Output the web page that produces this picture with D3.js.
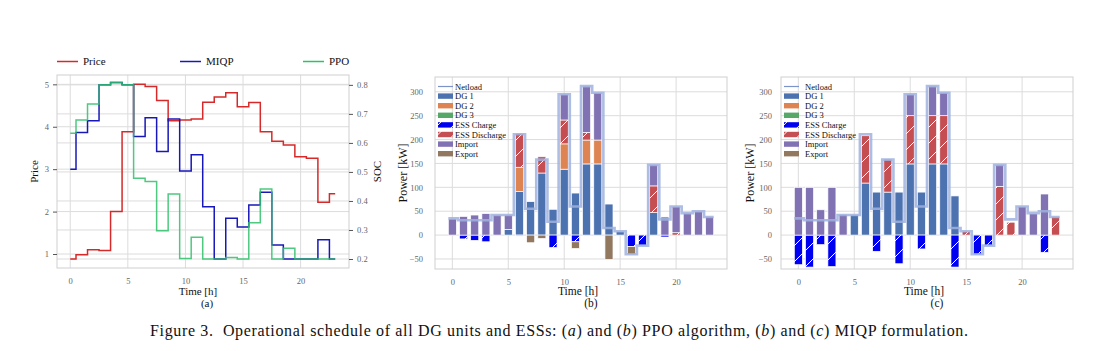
<!DOCTYPE html>
<html>
<head>
<meta charset="utf-8">
<script src="https://cdn.jsdelivr.net/npm/d3@7"></script>
<style>
  body { margin: 0; background: #fff; }
  svg { display: block; font-family: "Liberation Serif", "Times New Roman", serif; }
  .gridline { stroke: #dcdcdc; stroke-width: 1; }
  .frame { fill: none; stroke: #cfcfcf; stroke-width: 1; }
  .axis text { fill: #666; font-size: 8.5px; font-family: "Liberation Serif", serif; }
  .axis line { stroke: #555; }
  .label { fill: #111; }
</style>
</head>
<body>
<svg id="fig" width="1120" height="351"></svg>
<script>
// ---------- data ----------
const hours = [0,1,2,3,4,5,6,7,8,9,10,11,12,13,14,15,16,17,18,19,20,21,22,23];
const xTicks = [0, 5, 10, 15, 20];
const priceTicks = [1, 2, 3, 4, 5];
const socTicks = [0.2, 0.3, 0.4, 0.5, 0.6, 0.7, 0.8];
const powerTicks = [-50, 0, 50, 100, 150, 200, 250, 300];

// (a) price and state of charge
const price   = [0.88,0.98,1.10,1.08,2.00,3.88,5.00,4.95,4.62,4.14,4.16,4.18,4.58,4.70,4.80,4.47,4.57,3.88,3.66,3.57,3.29,3.26,2.22,2.42];
const socMIQP = [0.509,0.636,0.676,0.800,0.808,0.800,0.622,0.687,0.570,0.682,0.503,0.559,0.380,0.200,0.340,0.310,0.386,0.430,0.248,0.200,0.200,0.200,0.266,0.200];
const socPPO  = [0.633,0.679,0.734,0.800,0.808,0.800,0.478,0.467,0.297,0.424,0.202,0.275,0.200,0.200,0.205,0.200,0.325,0.441,0.200,0.237,0.200,0.200,0.200,0.200];

// net load, same in (b) and (c)
const netload = [35,31,31,31,42,42,211,55,158,28,295,60,312,298,15,8,-40,-22,147,33,60,46,50,38];

// (b) PPO schedule [kW]
const ppoDG1  = [0,0,0,0,0,12,91,70,130,54,138,88,149,149,65,8,0,0,47,0,0,0,0,0];
const ppoDG2  = [0,0,0,0,0,0,51,0,0,0,53,0,50,50,0,0,0,0,0,0,0,0,0,0];
const ppoDG3  = [0,0,0,0,0,0,0,0,0,0,0,0,0,0,0,0,0,0,0,0,0,0,0,0];
const ppoChg  = [0,-8,-11,-14,0,0,0,0,0,-26,0,-14,0,0,0,0,-24,-22,0,-4,0,0,0,0];
const ppoDis  = [0,0,0,0,0,0,71,0,34,0,50,0,16,0,0,0,0,0,56,0,5,0,0,0];
const ppoImp  = [34,39,42,45,42,30,0,0,0,0,54,0,97,99,0,0,0,0,44,38,55,46,50,38];
const ppoExp  = [0,0,0,0,0,0,-2,-16,-7,0,0,-14,0,0,-51,0,-17,0,0,0,0,0,0,0];

// (c) MIQP schedule [kW]
const miqpDG1 = [0,0,0,0,0,42,109,90,90,90,149,90,149,149,82,0,0,0,0,0,0,0,0,0];
const miqpDG2 = [0,0,0,0,0,0,0,0,0,0,0,0,0,0,0,0,0,0,0,0,0,0,0,0];
const miqpDG3 = [0,0,0,0,0,0,0,0,0,0,0,0,0,0,0,0,0,0,0,0,0,0,0,0];
const miqpChg = [-62,-67,-20,-66,0,0,0,-34,0,-60,0,-29,0,0,-67,0,-41,-22,0,0,0,0,-36,0];
const miqpDis = [0,0,0,0,0,0,99,0,69,0,101,0,101,101,0,8,0,0,102,27,0,0,0,38];
const miqpImp = [100,100,53,100,43,0,0,0,0,0,45,0,62,48,0,0,0,0,45,0,60,45,86,0];
const miqpExp = [0,0,0,0,0,0,0,0,0,0,0,0,0,0,0,0,0,0,0,0,0,0,0,0];

const keys = ["DG 1","DG 2","DG 3","ESS Charge","ESS Discharge","Import","Export"];
const colors = {"DG 1":"#4c72b0","DG 2":"#dd8452","DG 3":"#55a868","ESS Charge":"url(#hatchCharge)",
                "ESS Discharge":"url(#hatchDis)","Import":"#8172b3","Export":"#937860"};

const svg = d3.select("#fig");

// hatch patterns
const defs = svg.append("defs");
[["hatchCharge","#0000f0"],["hatchDis","#c44e52"]].forEach(([id, c]) => {
  const p = defs.append("pattern").attr("id", id)
    .attr("patternUnits","userSpaceOnUse").attr("width",16).attr("height",16);
  p.append("rect").attr("width",16).attr("height",16).attr("fill",c);
  p.append("path").attr("d","M0,16L16,0M-4,4L4,-4M12,20L20,12")
    .attr("stroke","#fff").attr("stroke-width",1);
});

function grid(g, x, y, xt, yt, box){
  g.append("g").selectAll("line").data(xt).join("line").attr("class","gridline")
    .attr("x1", d => x(d)).attr("x2", d => x(d)).attr("y1", box.y0).attr("y2", box.y1);
  g.append("g").selectAll("line").data(yt).join("line").attr("class","gridline")
    .attr("x1", box.x0).attr("x2", box.x1).attr("y1", d => y(d)).attr("y2", d => y(d));
}

// ---------- (a) ----------
const A = {x0:57, x1:349, y0:75, y1:268};
const xA = d3.scaleLinear().domain([-1.15, 24.2]).range([A.x0, A.x1]);
const yPrice = d3.scaleLinear().domain([0.67, 5.22]).range([A.y1, A.y0]);
const ySoc = d3.scaleLinear().domain([0.169, 0.834]).range([A.y1, A.y0]);

const ga = svg.append("g");
grid(ga, xA, yPrice, xTicks, priceTicks, A);
grid(ga, xA, ySoc, [], socTicks, A);
ga.append("rect").attr("class","frame")
  .attr("x", A.x0).attr("y", A.y0).attr("width", A.x1 - A.x0).attr("height", A.y1 - A.y0);

ga.append("g").attr("class","axis").attr("transform",`translate(${A.x0},0)`)
  .call(d3.axisLeft(yPrice).tickValues(priceTicks).tickFormat(d3.format("d")).tickSize(4).tickPadding(4).tickSizeOuter(0))
  .call(g => g.select(".domain").remove());
ga.append("g").attr("class","axis").attr("transform",`translate(${A.x1},0)`)
  .call(d3.axisRight(ySoc).tickValues(socTicks).tickFormat(d3.format(".1f")).tickSize(4).tickPadding(4).tickSizeOuter(0))
  .call(g => g.select(".domain").remove());
ga.append("g").attr("class","axis").attr("transform",`translate(0,${A.y1})`)
  .call(d3.axisBottom(xA).tickValues(xTicks).tickSize(0).tickPadding(10))
  .call(g => g.select(".domain").remove());

const step = (x, y) => d3.line().x(d => x(d[0])).y(d => y(d[1])).curve(d3.curveStep);
const seriesA = [
  {name:"Price", vals:price, y:yPrice, color:"#d62a2a"},
  {name:"MIQP", vals:socMIQP, y:ySoc, color:"#1818b8"},
  {name:"PPO", vals:socPPO, y:ySoc, color:"#2fc06a"}
];
ga.selectAll("path.series").data(seriesA).join("path").attr("class","series")
  .attr("d", s => step(xA, s.y)(d3.zip(hours, s.vals)))
  .attr("fill","none").attr("stroke", s => s.color).attr("stroke-width",1.5)
  .attr("stroke-opacity", s => s.name === "PPO" ? 0.85 : 1);

// legend above (a)
const legA = ga.selectAll("g.leg").data(seriesA).join("g").attr("class","leg")
  .attr("transform", (d, i) => `translate(${57 + i * 123},0)`);
legA.append("line").attr("x1",0).attr("x2",21).attr("y1",61.5).attr("y2",61.5)
  .attr("stroke", d => d.color).attr("stroke-width",1.5);
legA.append("text").attr("x",26).attr("y",64.5).attr("font-size",11).attr("class","label").text(d => d.name);

ga.append("text").attr("class","label").attr("font-size",11).attr("text-anchor","middle")
  .attr("transform",`translate(38,${(A.y0 + A.y1) / 2}) rotate(-90)`).text("Price");
ga.append("text").attr("class","label").attr("font-size",11).attr("text-anchor","middle")
  .attr("transform",`translate(381,${(A.y0 + A.y1) / 2}) rotate(-90)`).text("SOC");
ga.append("text").attr("class","label").attr("font-size",11).attr("text-anchor","middle")
  .attr("x",198).attr("y",295).text("Time [h]");
ga.append("text").attr("class","label").attr("font-size",11).attr("text-anchor","middle")
  .attr("x",207).attr("y",307).text("(a)");

// ---------- (b) and (c) ----------
function powerPanel(box, cols, tag, labX, tickPad, legTextX){
  const x = d3.scaleLinear().domain([-1.55, 24.55]).range([box.x0, box.x1]);
  const y = d3.scaleLinear().domain([-71, 331]).range([box.y1, box.y0]);
  const g = svg.append("g");
  grid(g, x, y, xTicks, powerTicks, box);
  g.append("rect").attr("class","frame")
    .attr("x", box.x0).attr("y", box.y0).attr("width", box.x1 - box.x0).attr("height", box.y1 - box.y0);

  g.append("g").attr("class","axis").attr("transform",`translate(${box.x0},0)`)
    .call(d3.axisLeft(y).tickValues(powerTicks).tickSize(0).tickPadding(tickPad))
    .call(s => s.select(".domain").remove());
  g.append("g").attr("class","axis").attr("transform",`translate(0,${box.y1})`)
    .call(d3.axisBottom(x).tickValues(xTicks).tickSize(0).tickPadding(10))
    .call(s => s.select(".domain").remove());

  const table = hours.map((h, i) => {
    const row = {hour: h};
    keys.forEach((k, j) => row[k] = cols[j][i]);
    return row;
  });
  const stacked = d3.stack().keys(keys).offset(d3.stackOffsetDiverging)(table);
  const bw = x(0.72) - x(0);

  g.append("g").selectAll("g").data(stacked).join("g")
    .attr("fill", s => colors[s.key])
    .selectAll("rect").data(s => s.filter(d => d[1] !== d[0])).join("rect")
    .attr("x", d => x(d.data.hour) - bw / 2)
    .attr("width", bw)
    .attr("y", d => y(Math.max(d[0], d[1])))
    .attr("height", d => Math.abs(y(d[0]) - y(d[1])))
    .attr("stroke","#fff").attr("stroke-width",0.7);

  // net load as a mid-step line, stretched to the bar edges
  const nl = [[-0.36, netload[0]], ...d3.zip(hours, netload), [23.36, netload[23]]];
  g.append("path").attr("d", step(x, y)(nl))
    .attr("fill","none").attr("stroke","#9fb2de").attr("stroke-opacity",0.85).attr("stroke-width",2.6);

  // legend
  const items = [{name:"Netload", line:true}, ...keys.map(k => ({name:k}))];
  const leg = g.selectAll("g.leg").data(items).join("g").attr("class","leg")
    .attr("transform", (d, i) => `translate(${box.x0 + 3},${86.5 + i * 9.6})`);
  leg.filter(d => d.line).append("line").attr("x1",0).attr("x2",15).attr("y1",0).attr("y2",0)
    .attr("stroke","#7d93c8").attr("stroke-width",1.2);
  leg.filter(d => !d.line).append("rect").attr("x",0).attr("y",-2.7).attr("width",15).attr("height",5.4)
    .attr("fill", d => colors[d.name]);
  leg.append("text").attr("x", legTextX).attr("y",3).attr("font-size",8.5).attr("class","label")
    .text(d => d.name);

  g.append("text").attr("class","label").attr("font-size",12).attr("text-anchor","middle")
    .attr("transform",`translate(${labX},${(box.y0 + box.y1) / 2}) rotate(-90)`).text("Power [kW]");
  const cx = (box.x0 + box.x1) / 2;
  g.append("text").attr("class","label").attr("font-size",11.5).attr("text-anchor","middle")
    .attr("x", cx - 3).attr("y",295).text("Time [h]");
  g.append("text").attr("class","label").attr("font-size",11.5).attr("text-anchor","middle")
    .attr("x", cx + 10).attr("y",307).text(tag);
}

powerPanel({x0:435, x1:727, y0:77, y1:269},
  [ppoDG1, ppoDG2, ppoDG3, ppoChg, ppoDis, ppoImp, ppoExp], "(b)", 407, 12, 17);
powerPanel({x0:781, x1:1073, y0:77, y1:269},
  [miqpDG1, miqpDG2, miqpDG3, miqpChg, miqpDis, miqpImp, miqpExp], "(c)", 754, 9, 21);

// ---------- caption ----------
const cap = svg.append("text").attr("x",150).attr("y",336)
  .attr("font-size",16).attr("class","label")
  .attr("textLength",818).attr("lengthAdjust","spacing");
[["Figure 3.  Operational schedule of all DG units and ESSs: (",0],["a",1],[") and (",0],["b",1],
 [") PPO algorithm, (",0],["b",1],[") and (",0],["c",1],[") MIQP formulation.",0]]
  .forEach(([t, it]) => cap.append("tspan").attr("font-style", it ? "italic" : null)
    .attr("xml:space","preserve").text(t));
</script>
</body>
</html>
